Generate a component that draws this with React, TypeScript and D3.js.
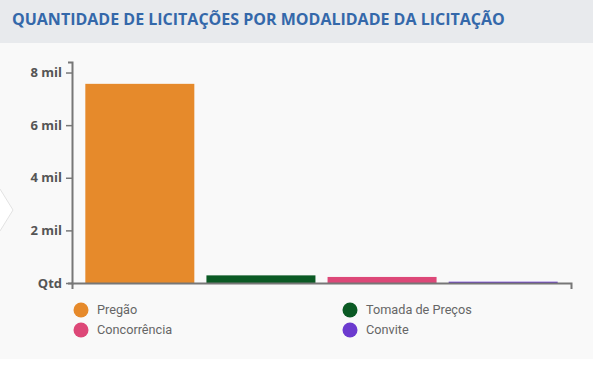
import React, { useEffect, useRef } from 'react';
import * as d3 from 'd3';

const title = 'QUANTIDADE DE LICITAÇÕES POR MODALIDADE DA LICITAÇÃO';
const categories = ['Pregão', 'Tomada de Preços', 'Concorrência', 'Convite'];
const values = [7570, 290, 230, 50];
const colors = ['#e68a2b', '#0b5a24', '#dd4878', '#6c3bcf'];
const yTicks = [0, 2000, 4000, 6000, 8000];
const yTickLabels = ['Qtd', '2 mil', '4 mil', '6 mil', '8 mil'];
const yMax = 8400;

const W = 593;
const H = 370;

const Chart = () => {
  const svgRef = useRef<SVGSVGElement>(null);

  useEffect(() => {
    const svg = d3.select(svgRef.current);
    svg.selectAll('*').remove();

    const left = 72;
    const right = 571;
    const top = 62;
    const bottom = 283;

    // panel + header
    svg.append('rect').attr('width', W).attr('height', 359).attr('fill', '#f9f9f9');
    svg.append('rect').attr('width', W).attr('height', 43).attr('fill', '#e8eaed');
    svg
      .append('text')
      .attr('x', 12)
      .attr('y', 25)
      .attr('font-family', 'Open Sans')
      .attr('font-weight', 700)
      .attr('font-size', 16)
      .attr('fill', '#3468aa')
      .text(title);

    // little chevron on the left edge
    svg
      .append('path')
      .attr('d', 'M0,189L13,210L0,231')
      .attr('fill', '#ffffff')
      .attr('stroke', '#e2e2e2');

    const x = d3
      .scaleBand()
      .domain(categories)
      .range([left, right])
      .paddingInner(0.1)
      .paddingOuter(0.11);

    const y = d3.scaleLinear().domain([0, yMax]).range([bottom, top]);

    // bars
    svg
      .append('g')
      .selectAll('rect')
      .data(values)
      .enter()
      .append('rect')
      .attr('x', (d, i) => x(categories[i]))
      .attr('y', d => y(d))
      .attr('width', x.bandwidth())
      .attr('height', d => bottom - y(d))
      .attr('fill', (d, i) => colors[i]);

    // y axis
    const yAxis = svg
      .append('g')
      .attr('transform', `translate(${left},0)`)
      .call(
        d3
          .axisLeft(y)
          .tickValues(yTicks)
          .tickSize(6)
          .tickSizeOuter(4)
          .tickPadding(4)
          .tickFormat((d, i) => yTickLabels[i])
      );
    yAxis.selectAll('.domain').attr('stroke', '#777').attr('stroke-width', 2);
    yAxis.selectAll('.tick line').attr('stroke', '#777').attr('stroke-width', 1.5);
    yAxis
      .selectAll('.tick text')
      .attr('fill', '#555')
      .attr('font-family', 'Open Sans')
      .attr('font-weight', 700)
      .attr('font-size', 13);

    // x axis (domain only)
    const xAxis = svg
      .append('g')
      .attr('transform', `translate(0,${bottom})`)
      .call(d3.axisBottom(x).tickSize(0).tickSizeOuter(6).tickFormat(() => ''));
    xAxis.selectAll('.domain').attr('stroke', '#777').attr('stroke-width', 2);
    xAxis.selectAll('.tick').remove();

    // legend
    const legend = svg
      .append('g')
      .selectAll('g')
      .data(categories)
      .enter()
      .append('g')
      .attr('transform', (d, i) => `translate(${i % 2 === 0 ? 81 : 350},${i < 2 ? 310 : 330})`);
    legend
      .append('circle')
      .attr('r', 7.5)
      .attr('fill', (d, i) => colors[i]);
    legend
      .append('text')
      .attr('x', 16)
      .attr('dy', '0.35em')
      .attr('font-family', 'Roboto')
      .attr('font-size', 12.7)
      .attr('fill', '#666')
      .text(d => d);
  }, []);

  return <svg ref={svgRef} width={W} height={H} style={{ display: 'block' }}></svg>;
};

export default function App() {
  return (
    <div style={{ width: W, height: H, background: '#ffffff' }}>
      <style>{'body{margin:0}'}</style>
      <Chart />
    </div>
  );
}
